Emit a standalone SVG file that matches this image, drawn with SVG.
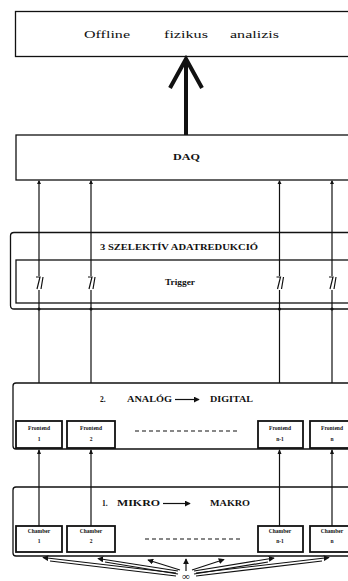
<svg xmlns="http://www.w3.org/2000/svg" width="348" height="581" viewBox="0 0 348 581">
<style>
.box{fill:none;stroke:#111;stroke-width:1.3}
.sbox{fill:none;stroke:#111;stroke-width:1.8}
.ln{fill:none;stroke:#111;stroke-width:1.2}
.t{font-family:"Liberation Serif",serif;fill:#111}
.big{font-size:10px}
.mid{font-size:7.5px;font-weight:bold}
.sm{font-size:5.5px;font-weight:bold;text-anchor:middle}
.dash{stroke:#111;stroke-width:1.2;stroke-dasharray:4,3}
</style>
<defs>
<marker id="ah" viewBox="0 0 8 8" refX="7" refY="4" markerWidth="5" markerHeight="5" orient="auto">
<path d="M0,0 L8,4 L0,8 z" fill="#111"/>
</marker>
</defs>
<rect width="348" height="581" fill="#fff"/>
<g id="offline">
<rect class="box" x="15.5" y="11.5" width="345" height="45"/>
<text class="t big" x="84" y="38" textLength="46" lengthAdjust="spacingAndGlyphs">Offline</text>
<text class="t big" x="164" y="38" textLength="44" lengthAdjust="spacingAndGlyphs">fizikus</text>
<text class="t big" x="230" y="38" textLength="49" lengthAdjust="spacingAndGlyphs">analizis</text>
</g>
<g id="daq">
<rect class="box" x="16" y="135" width="345" height="45"/>
<text class="t mid" x="173" y="160" textLength="27" lengthAdjust="spacingAndGlyphs">DAQ</text>
</g>
<g id="sec3">
<path class="box" d="M360,232.5 H14 Q10.5,232.5 10.5,236 V305.5 Q10.5,309 14,309 H360"/>
<text class="t mid" x="100" y="250" textLength="158" lengthAdjust="spacingAndGlyphs">3 SZELEKTÍV  ADATREDUKCIÓ</text>
<rect class="box" x="16" y="260" width="345" height="43"/>
<text class="t mid" x="165" y="285" textLength="30" lengthAdjust="spacingAndGlyphs">Trigger</text>
</g>
<g id="sec2">
<path class="box" d="M360,383 H16 Q13,383 13,386 V446 Q13,449 16,449 H360"/>
<text class="t mid" x="100" y="402">2.</text>
<text class="t mid" x="127" y="402" textLength="45" lengthAdjust="spacingAndGlyphs">ANALÓG</text>
<line class="ln" x1="175" y1="399.5" x2="199" y2="399.5" marker-end="url(#ah)"/>
<text class="t mid" x="210" y="402" textLength="43" lengthAdjust="spacingAndGlyphs">DIGITAL</text>
<line class="dash" x1="135" y1="431" x2="240" y2="431"/>
</g>
<g id="fe1"><rect class="sbox" x="16" y="421" width="46" height="27"/><text class="t sm" x="39" y="430">Frontend</text><text class="t sm" x="39" y="441">1</text></g>
<g id="fe2"><rect class="sbox" x="67" y="421" width="48" height="27"/><text class="t sm" x="91" y="430">Frontend</text><text class="t sm" x="91" y="441">2</text></g>
<g id="fen1"><rect class="sbox" x="258" y="421" width="45" height="27"/><text class="t sm" x="280" y="430">Frontend</text><text class="t sm" x="280" y="441">n-1</text></g>
<g id="fen"><rect class="sbox" x="310" y="421" width="46" height="27"/><text class="t sm" x="332" y="430">Frontend</text><text class="t sm" x="332" y="441">n</text></g>
<g id="sec1">
<path class="box" d="M360,487 H16 Q13,487 13,490 V553 Q13,556 16,556 H360"/>
<text class="t mid" x="102" y="506">1.</text>
<text class="t mid" x="117" y="506" textLength="43" lengthAdjust="spacingAndGlyphs">MIKRO</text>
<line class="ln" x1="163" y1="503.5" x2="190" y2="503.5" marker-end="url(#ah)"/>
<text class="t mid" x="210" y="506" textLength="40" lengthAdjust="spacingAndGlyphs">MAKRO</text>
<line class="dash" x1="145" y1="539" x2="240" y2="539"/>
</g>
<g id="ch1"><rect class="sbox" x="16" y="526" width="46" height="26"/><text class="t sm" x="39" y="533">Chamber</text><text class="t sm" x="39" y="543">1</text></g>
<g id="ch2"><rect class="sbox" x="67" y="526" width="48" height="26"/><text class="t sm" x="91" y="533">Chamber</text><text class="t sm" x="91" y="543">2</text></g>
<g id="chn1"><rect class="sbox" x="258" y="526" width="45" height="26"/><text class="t sm" x="280" y="533">Chamber</text><text class="t sm" x="280" y="543">n-1</text></g>
<g id="chn"><rect class="sbox" x="310" y="526" width="46" height="26"/><text class="t sm" x="332" y="533">Chamber</text><text class="t sm" x="332" y="543">n</text></g>
<g id="source"><text class="t" x="186" y="580" font-size="11" text-anchor="middle">∞</text></g>
<g id="connectors">
<path d="M186,135 V62" stroke="#111" stroke-width="4" fill="none"/>
<path d="M170,88 L186,59 L202,88" stroke="#111" stroke-width="4" fill="none" stroke-linejoin="miter"/>
<g class="ln">
<path d="M39,383 V181 M91,383 V181 M279.5,383 V181 M332,383 V181"/>
<path d="M39,526 V450 M91,526 V450 M279.5,526 V450 M332,526 V450"/>
</g>
<g fill="#111">
<path d="M39,180 l-2,4 h4z M91,180 l-2,4 h4z M279.5,180 l-2,4 h4z M332,180 l-2,4 h4z"/>
<path d="M39,449 l-2,5 h4z M91,449 l-2,5 h4z M279.5,449 l-2,5 h4z M332,449 l-2,5 h4z"/>
<circle cx="39" cy="309" r="1.5"/><circle cx="91" cy="309" r="1.5"/><circle cx="279.5" cy="309" r="1.5"/><circle cx="332" cy="309" r="1.5"/>
</g>
<g stroke="#fff" stroke-width="3">
<path d="M39,276 V290 M91,276 V290 M279.5,276 V290 M332,276 V290"/>
</g>
<g class="ln">
<path d="M36,277 h4 l-3,12 M41,289 l2,-12"/>
<path d="M88,277 h4 l-3,12 M93,289 l2,-12"/>
<path d="M276.5,277 h4 l-3,12 M281.5,289 l2,-12"/>
<path d="M329,277 h4 l-3,12 M334,289 l2,-12"/>
</g>
<g class="ln" stroke-width="1">
<line x1="176" y1="573" x2="43" y2="557.5" marker-end="url(#ah)"/>
<line x1="176" y1="576" x2="50" y2="561"/>
<line x1="178" y1="571" x2="98" y2="558.5" marker-end="url(#ah)"/>
<line x1="178" y1="574" x2="105" y2="562"/>
<line x1="180" y1="570" x2="148" y2="560" marker-end="url(#ah)"/>
<line x1="186" y1="571" x2="186" y2="559" marker-end="url(#ah)"/>
<line x1="192" y1="570" x2="224" y2="559.5" marker-end="url(#ah)"/>
<line x1="194" y1="571" x2="274" y2="558" marker-end="url(#ah)"/>
<line x1="194" y1="574" x2="268" y2="562"/>
<line x1="196" y1="573" x2="329" y2="557.5" marker-end="url(#ah)"/>
<line x1="196" y1="576" x2="322" y2="561"/>
</g>
</g>
</svg>
